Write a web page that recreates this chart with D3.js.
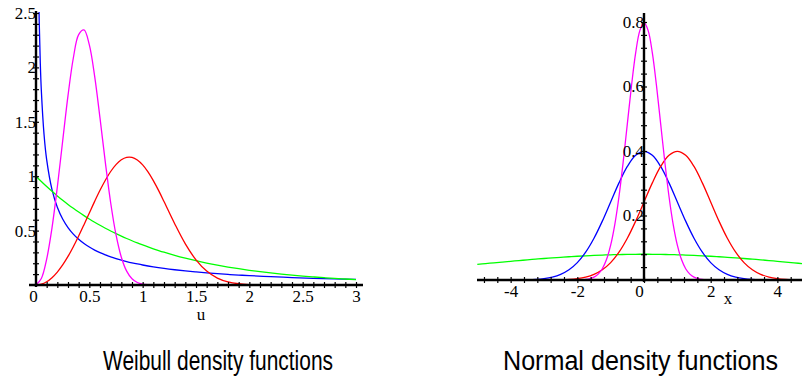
<!DOCTYPE html>
<html>
<head>
<meta charset="utf-8">
<script src="https://cdn.jsdelivr.net/npm/d3@7"></script>
<style>
  body { margin: 0; background: #fff; }
  svg { display: block; }
</style>
</head>
<body>
<svg width="802" height="379"></svg>
<script>
"use strict";

// ---- Weibull panel data ----
const weibullU = [0, 0.05, 0.1, 0.15, 0.2, 0.25, 0.3, 0.35, 0.4, 0.45, 0.5, 0.55, 0.6, 0.65, 0.7, 0.75,
  0.8, 0.85, 0.9, 0.95, 1.0, 1.05, 1.1, 1.15, 1.2, 1.3, 1.4, 1.5, 1.6, 1.7, 1.8, 1.9, 2.0, 2.1, 2.2,
  2.3, 2.4, 2.5, 2.6, 2.7, 2.8, 2.9, 3.0];
const weibullRed = [0, 0.0075, 0.0300, 0.0673, 0.1190, 0.1846, 0.2628, 0.3521, 0.4502, 0.5546, 0.6619,
  0.7684, 0.8702, 0.9631, 1.0432, 1.1067, 1.1507, 1.1728, 1.1722, 1.1486, 1.1036, 1.0394, 0.9591,
  0.8670, 0.7674, 0.5636, 0.3781, 0.2310, 0.1277, 0.0637, 0.0285, 0.0114, 0.0040, 0.0013, 0.0003,
  0, 0, 0, 0, 0, 0, 0, 0];
const weibullMagenta = [0, 0.0599, 0.2380, 0.5256, 0.9004, 1.3238, 1.7404, 2.0864, 2.3014, 2.3444,
  2.2072, 1.9182, 1.5348, 1.1272, 0.7562, 0.4620, 0.2554, 0.1274, 0.0570, 0.0228, 0.0080, 0.0026,
  0.0006, 0, 0, 0, 0, 0, 0, 0, 0, 0, 0, 0, 0, 0, 0, 0, 0, 0, 0, 0, 0];
const weibullGreen = [1, 0.9512, 0.9048, 0.8607, 0.8187, 0.7788, 0.7408, 0.7047, 0.6703, 0.6376, 0.6065,
  0.5769, 0.5488, 0.5220, 0.4966, 0.4724, 0.4493, 0.4274, 0.4066, 0.3867, 0.3679, 0.3499, 0.3329,
  0.3166, 0.3012, 0.2725, 0.2466, 0.2231, 0.2019, 0.1827, 0.1653, 0.1496, 0.1353, 0.1225, 0.1108,
  0.1003, 0.0907, 0.0821, 0.0743, 0.0672, 0.0608, 0.0550, 0.0498];
const blueU = [0.01, 0.02, 0.03, 0.04, 0.05, 0.075, 0.1, 0.15, 0.2, 0.25, 0.3, 0.35, 0.4, 0.45, 0.5,
  0.55, 0.6, 0.65, 0.7, 0.75, 0.8, 0.85, 0.9, 0.95, 1.0, 1.1, 1.2, 1.3, 1.4, 1.5, 1.6, 1.7, 1.8, 1.9,
  2.0, 2.2, 2.4, 2.6, 2.8, 3.0];
const weibullBlue = [4.524, 3.070, 2.428, 2.047, 1.788, 1.388, 1.1523, 0.8765, 0.7149, 0.6065, 0.5280,
  0.4677, 0.4200, 0.3811, 0.3487, 0.3212, 0.2975, 0.2769, 0.2588, 0.2429, 0.2285, 0.2157, 0.2041,
  0.1936, 0.1839, 0.1670, 0.1526, 0.1402, 0.1294, 0.1199, 0.1116, 0.1041, 0.0974, 0.0914, 0.0860,
  0.0765, 0.0685, 0.0618, 0.0561, 0.0511];
const weibullXTicks = [0, 0.5, 1, 1.5, 2, 2.5, 3];
const weibullYTicks = [0.5, 1, 1.5, 2, 2.5];

// ---- Normal panel data ----
const normalX = [-5, -4.75, -4.5, -4.25, -4, -3.75, -3.5, -3.25, -3, -2.75, -2.5, -2.25, -2, -1.75,
  -1.5, -1.25, -1, -0.75, -0.5, -0.25, 0, 0.25, 0.5, 0.75, 1, 1.25, 1.5, 1.75, 2, 2.25, 2.5, 2.75,
  3, 3.25, 3.5, 3.75, 4, 4.25, 4.5, 4.75, 5];
const normalBlue = [0, 0, 0, 0, 0.0001, 0.0004, 0.0009, 0.0020, 0.0044, 0.0091, 0.0175, 0.0317, 0.0540,
  0.0863, 0.1295, 0.1826, 0.2420, 0.3011, 0.3521, 0.3867, 0.3989, 0.3867, 0.3521, 0.3011, 0.2420,
  0.1826, 0.1295, 0.0863, 0.0540, 0.0317, 0.0175, 0.0091, 0.0044, 0.0020, 0.0009, 0.0004, 0.0001,
  0, 0, 0, 0];
const normalRed = [0, 0, 0, 0, 0, 0, 0, 0, 0.0001, 0.0004, 0.0009, 0.0020, 0.0044, 0.0091, 0.0175,
  0.0317, 0.0540, 0.0863, 0.1295, 0.1826, 0.2420, 0.3011, 0.3521, 0.3867, 0.3989, 0.3867, 0.3521,
  0.3011, 0.2420, 0.1826, 0.1295, 0.0863, 0.0540, 0.0317, 0.0175, 0.0091, 0.0044, 0.0020, 0.0009,
  0.0004, 0.0001];
const normalGreen = [0.0484, 0.0508, 0.0532, 0.0556, 0.0579, 0.0602, 0.0625, 0.0646, 0.0666, 0.0686,
  0.0704, 0.0721, 0.0737, 0.0750, 0.0763, 0.0773, 0.0782, 0.0789, 0.0794, 0.0797, 0.0798, 0.0797,
  0.0794, 0.0789, 0.0782, 0.0773, 0.0763, 0.0750, 0.0737, 0.0721, 0.0704, 0.0686, 0.0666, 0.0646,
  0.0625, 0.0602, 0.0579, 0.0556, 0.0532, 0.0508, 0.0484];
const magentaX = [-2.5, -2.375, -2.25, -2.125, -2, -1.875, -1.75, -1.625, -1.5, -1.375, -1.25, -1.125,
  -1, -0.875, -0.75, -0.625, -0.5, -0.375, -0.25, -0.125, 0, 0.125, 0.25, 0.375, 0.5, 0.625, 0.75,
  0.875, 1, 1.125, 1.25, 1.375, 1.5, 1.625, 1.75, 1.875, 2, 2.125, 2.25, 2.375, 2.5];
const normalMagenta = [0, 0, 0, 0, 0.0003, 0.0007, 0.0017, 0.0041, 0.0089, 0.0182, 0.0350, 0.0635,
  0.1080, 0.1726, 0.2590, 0.3653, 0.4839, 0.6022, 0.7041, 0.7733, 0.7979, 0.7733, 0.7041, 0.6022,
  0.4839, 0.3653, 0.2590, 0.1726, 0.1080, 0.0635, 0.0350, 0.0182, 0.0089, 0.0041, 0.0017, 0.0007,
  0.0003, 0, 0, 0, 0];
const normalXTicks = [-4, -2, 0, 2, 4];
const normalYTicks = [0.2, 0.4, 0.6, 0.8];

const SERIF = "'Liberation Serif', 'Times New Roman', serif";
const svg = d3.select("svg");

function zip(xs, ys) {
  return xs.map((x, i) => [x, ys[i]]);
}

// Maple-style tick label styling
function styleLabels(sel) {
  sel.selectAll(".tick text")
    .style("font-family", SERIF)
    .style("font-size", "17px")
    .attr("fill", "#000");
}

// Draws one panel: axes crossing at origin, little ticks through the line
function drawPanel(cfg) {
  const g = svg.append("g");
  const x = d3.scaleLinear().domain(cfg.xDomain).range(cfg.xRange);
  const y = d3.scaleLinear().domain(cfg.yDomain).range(cfg.yRange);

  const clipId = cfg.id + "-clip";
  svg.append("defs").append("clipPath").attr("id", clipId)
    .append("rect")
    .attr("x", cfg.xRange[0] - 2).attr("y", cfg.clipTop)
    .attr("width", cfg.clipRight - cfg.xRange[0] + 2)
    .attr("height", cfg.yRange[0] - cfg.clipTop + 2);

  const line = d3.line()
    .x((d) => x(d[0]))
    .y((d) => y(d[1]))
    .curve(d3.curveCatmullRom.alpha(0.5));

  const curves = g.append("g").attr("clip-path", `url(#${clipId})`);
  cfg.series.forEach((s) => {
    curves.append("path")
      .datum(s.points)
      .attr("d", line)
      .attr("fill", "none")
      .attr("stroke", s.color)
      .attr("stroke-width", 1.3);
  });

  // x axis minor ticks + line
  const xAxisG = g.append("g")
    .attr("transform", `translate(0,${y(0)})`)
    .call(d3.axisBottom(x).tickValues(cfg.xMinor).tickSize(0).tickFormat(""));
  xAxisG.select(".domain").remove();
  xAxisG.selectAll(".tick line").attr("y1", -3).attr("y2", 3).attr("stroke", "#000").attr("stroke-width", 1.2);
  g.append("line")
    .attr("x1", cfg.xLineStart).attr("x2", cfg.xLineEnd)
    .attr("y1", y(0)).attr("y2", y(0))
    .attr("stroke", "#000").attr("stroke-width", 2.4);

  const xLab = g.append("g")
    .attr("transform", `translate(0,${y(0)})`)
    .call(d3.axisBottom(x).tickValues(cfg.xTicks).tickSize(0).tickPadding(5)
      .tickFormat((d) => String(d)));
  xLab.select(".domain").remove();
  styleLabels(xLab);
  xLab.selectAll(".tick text")
    .attr("dx", (d) => (d === 0 ? cfg.zeroShift : 0))
    .attr("dy", "0.72em");

  // y axis minor ticks + line
  const yAxisG = g.append("g")
    .attr("transform", `translate(${x(0)},0)`)
    .call(d3.axisLeft(y).tickValues(cfg.yMinor).tickSize(0).tickFormat(""));
  yAxisG.select(".domain").remove();
  yAxisG.selectAll(".tick line").attr("x1", -3).attr("x2", 3).attr("stroke", "#000").attr("stroke-width", 1.2);
  g.append("line")
    .attr("x1", x(0)).attr("x2", x(0))
    .attr("y1", y(0) + 2).attr("y2", cfg.yLineTop)
    .attr("stroke", "#000").attr("stroke-width", 2.4);

  const yLab = g.append("g")
    .attr("transform", `translate(${x(0)},0)`)
    .call(d3.axisLeft(y).tickValues(cfg.yTicks).tickSize(0).tickPadding(0)
      .tickFormat((d) => String(d)));
  yLab.select(".domain").remove();
  styleLabels(yLab);

  // axis name
  g.append("text")
    .attr("x", cfg.xName[0]).attr("y", cfg.xName[1])
    .attr("text-anchor", "middle")
    .style("font-family", SERIF)
    .style("font-size", "17px")
    .text(cfg.xNameText);

  // title
  svg.append("text")
    .attr("x", cfg.title[0]).attr("y", 370)
    .attr("textLength", cfg.title[1])
    .attr("lengthAdjust", "spacingAndGlyphs")
    .style("font-family", "'Liberation Sans Narrow', 'Liberation Sans', Arial, sans-serif")
    .style("font-size", "27px")
    .text(cfg.titleText);
}

drawPanel({
  id: "weibull",
  xDomain: [0, 3], xRange: [36, 356],
  yDomain: [0, 2.5], yRange: [285, 13],
  clipTop: 12, clipRight: 365,
  xLineStart: 29, xLineEnd: 363, yLineTop: 11,
  xMinor: d3.range(0.1, 3.05, 0.1),
  yMinor: d3.range(0.1, 2.55, 0.1),
  xTicks: weibullXTicks, yTicks: weibullYTicks,
  zeroShift: -3,
  series: [
    { color: "#0000ff", points: zip(blueU, weibullBlue) },
    { color: "#00ff00", points: zip(weibullU, weibullGreen) },
    { color: "#ff0000", points: zip(weibullU, weibullRed) },
    { color: "#ff00ff", points: zip(weibullU, weibullMagenta) }
  ],
  xName: [201, 320], xNameText: "u",
  title: [103, 230], titleText: "Weibull density functions"
});

drawPanel({
  id: "normal",
  xDomain: [-5, 5], xRange: [477.3, 810.7],
  yDomain: [0, 0.8], yRange: [280, 22],
  clipTop: 10, clipRight: 802,
  xLineStart: 477, xLineEnd: 802, yLineTop: 13,
  xMinor: d3.range(-4.8, 4.85, 0.4),
  yMinor: d3.range(0.04, 0.83, 0.04),
  xTicks: normalXTicks, yTicks: normalYTicks,
  zeroShift: -5,
  series: [
    { color: "#00ff00", points: zip(normalX, normalGreen) },
    { color: "#0000ff", points: zip(normalX, normalBlue) },
    { color: "#ff0000", points: zip(normalX, normalRed) },
    { color: "#ff00ff", points: zip(magentaX, normalMagenta) }
  ],
  xName: [728, 304], xNameText: "x",
  title: [503, 275], titleText: "Normal density functions"
});
</script>
</body>
</html>
